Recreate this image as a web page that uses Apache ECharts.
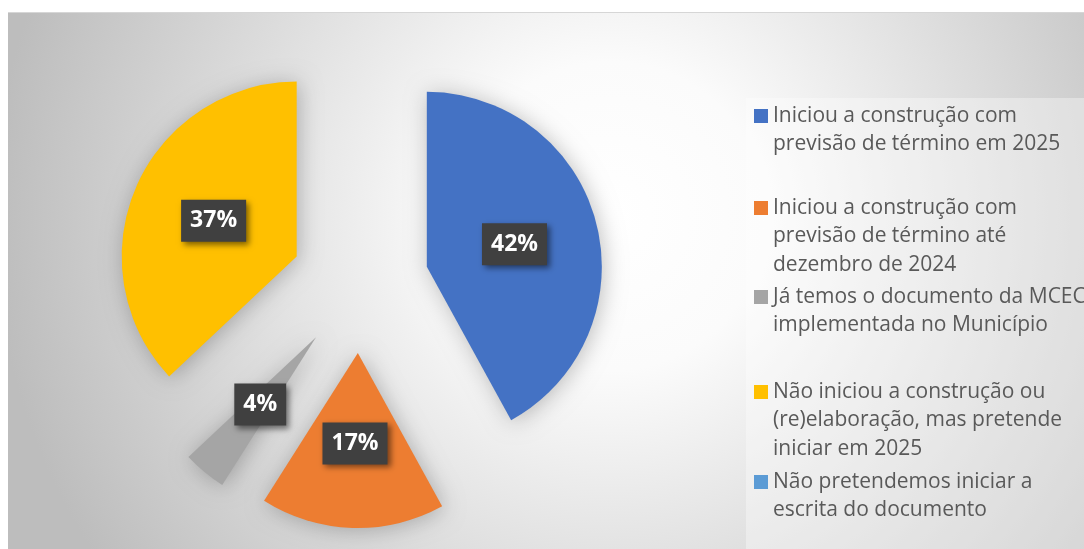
<!DOCTYPE html>
<html>
<head>
<meta charset="utf-8">
<script src="https://cdn.jsdelivr.net/npm/echarts@6/dist/echarts.min.js"></script>
<style>
html,body{margin:0;padding:0;background:#fff;}
#chart{width:1084px;height:549px;}
</style>
</head>
<body>
<div id="chart"></div>
<script>
// Data
var categories = [
  'Iniciou a construção com previsão de término em 2025',
  'Iniciou a construção com previsão de término até dezembro de 2024',
  'Já temos o documento da MCEC implementada no Município',
  'Não iniciou a construção ou (re)elaboração, mas pretende iniciar em 2025',
  'Não pretendemos iniciar a escrita do documento'
];
var legendLines = [
  ['Iniciou a construção com', 'previsão de término em 2025'],
  ['Iniciou a construção com', 'previsão de término até', 'dezembro de 2024'],
  ['Já temos o documento da MCEC', 'implementada no Município'],
  ['Não iniciou a construção ou', '(re)elaboração, mas pretende', 'iniciar em 2025'],
  ['Não pretendemos iniciar a', 'escrita do documento']
];
var values = [42, 17, 4, 37, 0];
var colors = ['#4472C4', '#ED7D31', '#A5A5A5', '#FFC000', '#5B9BD5'];

var legendFirstLineY = [116, 208, 297, 392, 482];
var LH = 28.5;
var R = 175;

var chart = echarts.init(document.getElementById('chart'));

var legends = categories.map(function (name, i) {
  var n = legendLines[i].length;
  return {
    orient: 'vertical',
    left: 754,
    top: legendFirstLineY[i] - (2 * n - 1) * LH / 2,
    padding: 0,
    itemGap: 0,
    itemWidth: 14,
    itemHeight: 14,
    icon: 'rect',
    selectedMode: false,
    data: [name],
    formatter: function () {
      var pre = '';
      for (var k = 0; k < n - 1; k++) pre += '\n';
      return pre + legendLines[i].join('\n');
    },
    textStyle: {
      fontFamily: 'Open Sans',
      fontSize: 21,
      color: '#595959',
      lineHeight: LH
    }
  };
});

// small slices: the label is kept at half the radius, as in the reference
var data = categories.map(function (name, i) {
  var item = {
    name: name,
    value: values[i],
    selected: true,
    itemStyle: { color: colors[i] }
  };
  if (values[i] === 0) {
    item.label = { show: false };
  } else if (values[i] < 10) {
    item.label = { position: 'outside', distanceToLabelLine: 0 };
    item.labelLine = { show: false, length: -R / 2, length2: 0 };
  }
  return item;
});

chart.setOption({
  animation: false,
  color: colors,
  graphic: {
    elements: [
      {
        type: 'rect',
        z: -10,
        silent: true,
        shape: { x: 8, y: 12, width: 1076, height: 537 },
        style: {
          fill: {
            type: 'radial', x: 0.56, y: 0.38, r: 1.15,
            colorStops: [
              { offset: 0, color: '#ffffff' },
              { offset: 0.25, color: '#fbfbfb' },
              { offset: 1, color: '#bdbdbd' }
            ]
          }
        }
      },
      {
        type: 'line',
        z: -9,
        silent: true,
        shape: { x1: 8, y1: 12.5, x2: 1084, y2: 12.5 },
        style: { stroke: '#d6d6d6', lineWidth: 1 }
      },
      {
        type: 'rect',
        z: -8,
        silent: true,
        shape: { x: 746, y: 98, width: 338, height: 451 },
        style: { fill: 'rgba(255,255,255,0.35)' }
      }
    ]
  },
  legend: legends,
  series: [{
    type: 'pie',
    center: [360, 284],
    radius: [0, R],
    startAngle: 90,
    clockwise: true,
    selectedMode: 'multiple',
    selectedOffset: 69,
    avoidLabelOverlap: false,
    minShowLabelAngle: 0,
    emphasis: { disabled: true },
    itemStyle: {
      shadowBlur: 22,
      shadowColor: 'rgba(0,0,0,0.25)',
      shadowOffsetX: 2,
      shadowOffsetY: 2
    },
    label: {
      show: true,
      position: 'inside',
      overflow: 'none',
      formatter: '{c}%',
      fontFamily: 'Open Sans',
      fontWeight: 'bold',
      fontSize: 23,
      color: '#ffffff',
      lineHeight: 26,
      backgroundColor: '#404040',
      padding: [8, 9],
      shadowBlur: 6,
      shadowColor: 'rgba(0,0,0,0.5)',
      shadowOffsetX: 3,
      shadowOffsetY: 3
    },
    labelLayout: function (params) {
      if (values[params.dataIndex] > 0 && values[params.dataIndex] < 10) {
        return { align: 'center' };
      }
      return {};
    },
    labelLine: { show: false },
    data: data
  }]
});
</script>
</body>
</html>
